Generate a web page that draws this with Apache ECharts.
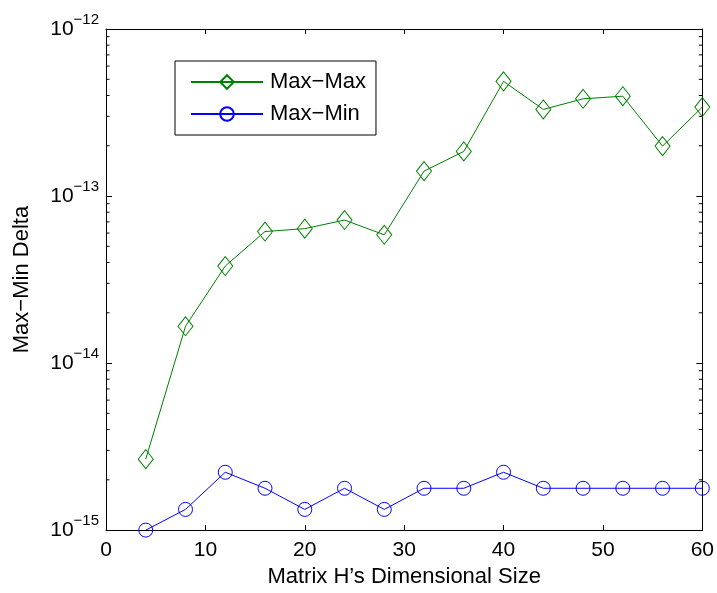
<!DOCTYPE html>
<html>
<head>
<meta charset="utf-8">
<script src="https://cdn.jsdelivr.net/npm/echarts@6/dist/echarts.min.js"></script>
<style>
  html, body { margin: 0; padding: 0; background: #fff; }
  #chart { width: 717px; height: 593px; }
</style>
</head>
<body>
<div id="chart"></div>
<script>
// matrix sizes on the x axis
var sizes = [4, 8, 12, 16, 20, 24, 28, 32, 36, 40, 44, 48, 52, 56, 60];
// Max-Max delta
var maxMax = [2.66e-15, 1.66e-14, 3.81e-14, 6.13e-14, 6.38e-14, 7.18e-14, 5.86e-14,
  1.41e-13, 1.85e-13, 4.86e-13, 3.30e-13, 3.82e-13, 3.96e-13, 1.99e-13, 3.41e-13];
// Max-Min delta
var maxMin = [1.0e-15, 1.33e-15, 2.22e-15, 1.78e-15, 1.33e-15, 1.78e-15, 1.33e-15,
  1.78e-15, 1.78e-15, 2.22e-15, 1.78e-15, 1.78e-15, 1.78e-15, 1.78e-15, 1.78e-15];
// log minor tick values (2..9 in every decade)
var minorTicks = [];
[-15, -14, -13].forEach(function (e) {
  for (var k = 2; k <= 9; k++) minorTicks.push(k * Math.pow(10, e));
});

var font = "'Liberation Sans', Arial, sans-serif";
var green = "#008000";
var blue = "#0000ff";

function pairs(ys) {
  return sizes.map(function (x, i) { return [x, ys[i]]; });
}

var axisLine = { show: true, onZero: false, lineStyle: { color: "#000", width: 1 } };

var myChart = echarts.init(document.getElementById("chart"));
var option = {
  backgroundColor: "#fff",
  animation: false,
  textStyle: { fontFamily: font, color: "#000" },
  grid: { left: 106, right: 14, top: 29, bottom: 60 },
  legend: {
    data: ["Max\u2212Max", "Max\u2212Min"],
    orient: "vertical",
    left: 175,
    top: 61,
    padding: [10, 10, 10, 15],
    itemWidth: 72,
    itemHeight: 17,
    itemGap: 10,
    backgroundColor: "#fff",
    borderColor: "#000",
    borderWidth: 1,
    textStyle: { fontSize: 22, fontFamily: font, color: "#000", lineHeight: 22, padding: [0, 0, 0, 2] },
  },
  xAxis: [
    {
      type: "value",
      min: 0,
      max: 60,
      interval: 10,
      name: "Matrix H\u2019s Dimensional Size",
      nameLocation: "middle",
      nameGap: 34,
      nameTextStyle: { fontSize: 22, color: "#000" },
      axisLine: axisLine,
      axisTick: { inside: true, length: 5, lineStyle: { color: "#000" } },
      axisLabel: { fontSize: 21, color: "#000", margin: 10 },
      splitLine: { show: false },
    },
    {
      type: "value",
      position: "top",
      min: 0,
      max: 60,
      interval: 10,
      axisLine: axisLine,
      axisTick: { inside: true, length: 5, lineStyle: { color: "#000" } },
      axisLabel: { show: false },
      splitLine: { show: false },
    },
  ],
  yAxis: [
    {
      type: "log",
      logBase: 10,
      min: 1e-15,
      max: 1e-12,
      name: "Max\u2212Min Delta",
      nameLocation: "middle",
      nameGap: 73,
      nameTextStyle: { fontSize: 22, color: "#000" },
      axisLine: axisLine,
      axisTick: { show: true, inside: true, length: 6, lineStyle: { color: "#000" } },
      axisLabel: {
        margin: 7,
        formatter: function (v) {
          var e = Math.round(Math.log10(v));
          return "{b|10}{s|\u2212" + Math.abs(e) + "}";
        },
        rich: {
          b: { fontSize: 21, lineHeight: 34, color: "#000", fontFamily: font },
          s: { fontSize: 15, verticalAlign: "top", color: "#000", fontFamily: font },
        },
      },
      splitLine: { show: false },
    },
    {
      type: "log",
      logBase: 10,
      position: "right",
      min: 1e-15,
      max: 1e-12,
      axisLine: axisLine,
      axisTick: { show: true, inside: true, length: 6, lineStyle: { color: "#000" } },
      axisLabel: { show: false },
      splitLine: { show: false },
    },
  ],
  series: [
    {
      name: "Max\u2212Max",
      type: "line",
      data: pairs(maxMax),
      symbol: "diamond",
      symbolSize: [15, 19],
      lineStyle: { color: green, width: 1 },
      itemStyle: { color: "rgba(0,0,0,0)", borderColor: green, borderWidth: 1 },
      z: 3,
    },
    {
      name: "Max\u2212Min",
      type: "line",
      data: pairs(maxMin),
      symbol: "circle",
      symbolSize: 14,
      lineStyle: { color: blue, width: 1 },
      itemStyle: { color: "rgba(0,0,0,0)", borderColor: blue, borderWidth: 1 },
      z: 3,
    },
    {
      // minor ticks on the log axes, on both sides of the box
      type: "custom",
      silent: true,
      clip: false,
      data: minorTicks.map(function (v) { return [0, v]; }),
      renderItem: function (params, api) {
        var l = api.coord([0, api.value(1)]);
        var r = api.coord([60, api.value(1)]);
        var st = { stroke: "#000", lineWidth: 1 };
        return {
          type: "group",
          children: [
            { type: "line", shape: { x1: l[0], y1: l[1], x2: l[0] + 3.5, y2: l[1] }, style: st },
            { type: "line", shape: { x1: r[0], y1: r[1], x2: r[0] - 3.5, y2: r[1] }, style: st },
          ],
        };
      },
      z: 2,
    },
  ],
};
option && myChart.setOption(option);
</script>
</body>
</html>
